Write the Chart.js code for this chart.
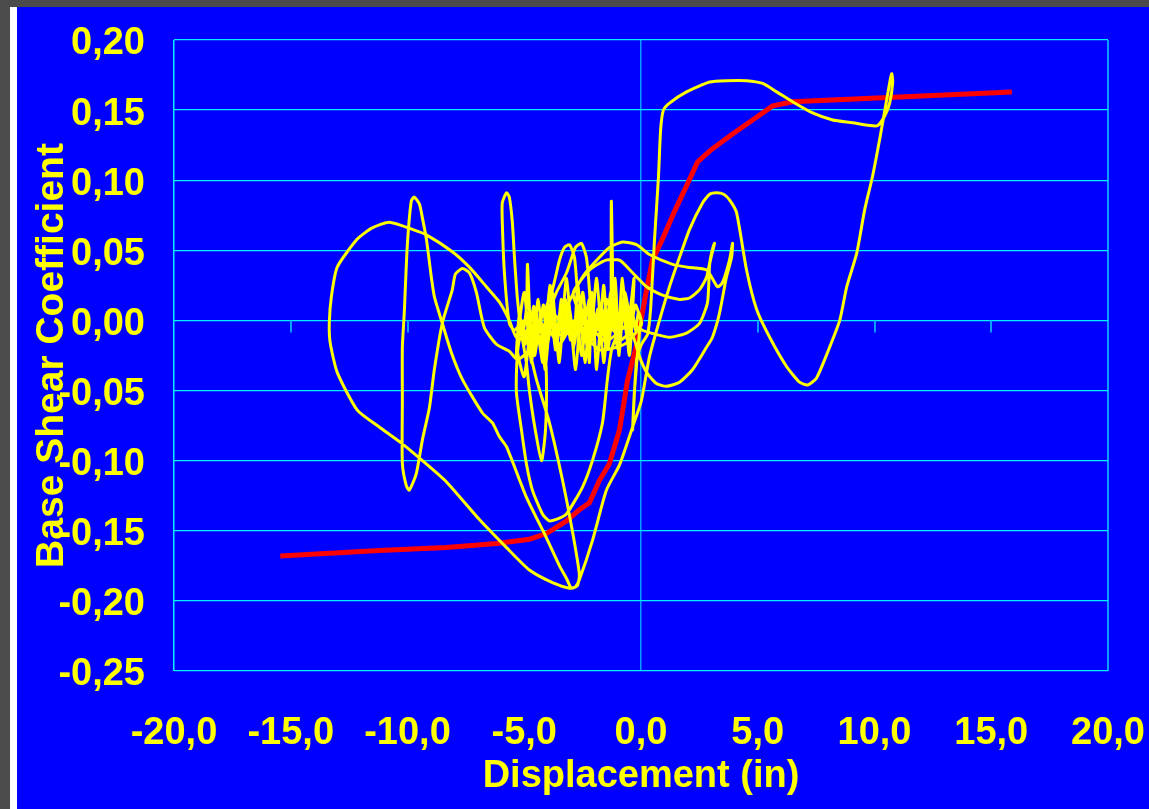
<!DOCTYPE html>
<html>
<head>
<meta charset="utf-8">
<script src="https://cdn.jsdelivr.net/npm/chart.js@4/dist/chart.umd.min.js"></script>
<style>
  html, body { margin: 0; padding: 0; width: 1149px; height: 809px; overflow: hidden; background: #4b4b4b; }
  #edge { position: absolute; left: 10px; top: 7px; width: 7px; height: 802px; background: #ffffff; }
  #panel { position: absolute; left: 17px; top: 7px; width: 1132px; height: 802px; background: #0000ff; }
  canvas { display: block; }
</style>
</head>
<body>
<div id="edge"></div>
<div id="panel"><canvas id="chart" width="1132" height="802"></canvas></div>
<script>
// Axis tick values
const xTickValues = [-20, -15, -10, -5, 0, 5, 10, 15, 20];
const yTickValues = [-0.25, -0.2, -0.15, -0.1, -0.05, 0, 0.05, 0.1, 0.15, 0.2];

// Pushover capacity curve (displacement in, base shear coefficient)
const pushoverDisp  = [-15.45, -11.21, -8.34, -6.19, -4.78, -4.05, -3.19, -2.64, -2.21, -1.78, -1.35, -0.92, -0.58, -0.24, 0, 0.24, 0.49, 0.92, 1.44, 1.95, 2.42, 3.02, 3.92, 4.78, 5.64, 6.49, 15.88];
const pushoverShear = [-0.168, -0.164, -0.162, -0.159, -0.156, -0.152, -0.143, -0.135, -0.130, -0.114, -0.102, -0.078, -0.043, -0.021, 0, 0.022, 0.043, 0.058, 0.078, 0.096, 0.113, 0.122, 0.133, 0.143, 0.153, 0.156, 0.163];

// Time-history response, first phase: small cycles, loops to +4 in, spike near -6 in
const phase1Disp = [
  0, -0.24, -0.49, -0.71, -0.92, -1.09, -1.26, -1.27, -1.22, -1.48, -1.65, -1.86, -2.04, -2.21, -2.42, -2.64, -2.85, -3.06, -3.24, -3.41,
  -3.58, -3.79, -4.01, -4.18, -4.35, -4.52, -4.69, -4.86, -4.90, -5.04, -5.21, -5.34, -5.16, -4.95, -4.78, -4.56, -4.31, -4.09, -3.88, -3.66,
  -3.45, -3.24, -3.02, -2.76, -2.55, -2.34, -2.21, -2.12, -1.91, -1.69, -1.52, -1.35, -1.18, -0.96, -0.75, -0.58, -0.41, -0.24, -0.11, 0.02,
  -0.71, -1.78, -2.64, -3.49, -4.14, -3.79, -3.49, -3.28, -3.06, -2.85, -2.72, -2.42, -2.29, -2.12, -2.21, -2.34, -2.55, -2.81, -3.19, -3.62,
  -4.01, -4.26, -3.71, -3.28, -2.94, -2.42, -1.78, -1.35, -0.79, -0.19, 0.36, 1.35, 1.99, 2.81, 3.28, 3.49, 3.79, 3.92, 3.88, 3.66,
  3.36, 3.06, 2.81, 2.21, 1.65, 1.09, 0.66, 0.24, -0.06, -0.28, -0.58, -1.50, -2.60, -2.90, -2.20, -1.50, -0.92, -0.36, 0.24, 0.92,
  1.65, 2.08, 2.51, 2.81, 3.02, 3.15, 3.06, 2.94, 2.85, 2.51, 1.95, 1.22, 0.66, 0.06, -0.49,
  -1.14, -1.78, -2.42, -3.06, -3.71, -4.35, -4.99, -5.42, -5.64, -5.85, -5.94, -5.94, -5.76, -5.64, -5.51, -5.42, -5.29, -5.12, -4.91, -4.78,
  -4.56, -4.26, -4.09, -4.05, -4.14, -4.56, -5.21, -5.34, -5.12, -4.91, -4.65, -4.22, -3.92, -3.49, -3.19, -2.51, -2.08, -1.65, -1.44, -1.26,
  -0.92, -0.49
];
const phase1Shear = [
  0, 0.011, -0.010, 0.015, -0.005, 0.011, -0.007, 0.085, 0.003, 0.015, -0.010, 0.008, -0.014, 0.015, -0.003, 0.011, -0.017, 0.008, -0.010, 0.015,
  -0.007, 0.004, -0.017, 0.011, -0.007, 0.008, -0.021, 0.040, 0.010, -0.007, 0.004, -0.025, -0.001, -0.017, 0.002, -0.025, 0.000, -0.014, 0.011, -0.021,
  -0.001, 0.015, -0.014, 0.002, -0.025, -0.001, -0.030, 0.015, -0.007, 0.009, -0.017, 0.002, 0.016, -0.010, 0.006, -0.014, 0.011, -0.007, 0.006, -0.003,
  -0.017, -0.021, -0.007, -0.010, 0.003, 0.022, 0.043, 0.052, 0.054, 0.045, 0.022, -0.002, -0.021, -0.007, 0.022, 0.045, 0.055, 0.052, 0.034, 0.020,
  0.003, -0.012, -0.007, 0.006, 0.018, 0.033, 0.045, 0.052, 0.056, 0.054, 0.047, 0.040, 0.038, 0.036, 0.024, 0.027, 0.043, 0.055, 0.045, 0.031,
  0.005, -0.012, -0.019, -0.035, -0.044, -0.047, -0.045, -0.037, -0.026, -0.014, -0.003, -0.015, 0.005, 0.020, 0.036, 0.043, 0.043, 0.034, 0.024, 0.018,
  0.015, 0.016, 0.022, 0.031, 0.048, 0.055, 0.049, 0.040, 0.013, -0.002, -0.009, -0.012, -0.010, -0.007, -0.001,
  0.004, -0.007, 0.008, -0.010, 0.004, -0.007, 0.000, -0.007, -0.002, 0.034, 0.070, 0.084, 0.091, 0.088, 0.070, 0.045, 0.015, -0.009, -0.030, -0.050,
  -0.075, -0.100, -0.078, -0.042, -0.021, -0.007, -0.014, -0.050, -0.078, -0.102, -0.121, -0.138, -0.143, -0.141, -0.138, -0.119, -0.100, -0.073, -0.042, -0.021,
  -0.007, -0.003
];

// Second phase: dense small cycles between -5.5 in and 0
const phase2Disp = [
  -0.70, -0.95, -1.10, -1.40, -1.60, -1.90, -2.10, -2.40, -2.70, -2.90, -3.20, -3.50, -3.80, -4.10, -4.40, -4.70, -5.00, -5.30, -5.00, -4.60,
  -4.20, -3.90, -3.50, -3.10, -2.80, -2.50, -2.20, -1.90, -1.60, -1.30, -1.00, -0.80, -0.50, -0.30, -0.60
];
const phase2Shear = [
  0.020, -0.025, 0.030, -0.020, 0.025, -0.035, 0.020, -0.030, 0.025, -0.020, 0.030, -0.030, 0.020, -0.035, 0.015, -0.030, 0.020, -0.020, -0.040, 0.010,
  -0.030, 0.025, -0.020, 0.010, -0.035, 0.020, -0.020, 0.030, -0.030, 0.020, -0.020, 0.030, -0.025, 0.030, -0.010
];

// Third phase: excursion to -10 in, large loop to -13 in, then peak at +10.7 in
const phase3Disp = [
  -0.92, -1.56, -2.21, -2.85, -3.49, -4.14, -4.78, -5.29, -5.64, -6.19, -6.71, -7.05, -7.35, -7.65, -7.95, -8.08, -8.51, -8.85, -9.06, -9.36,
  -9.62, -9.92, -10.05, -10.22, -10.22, -10.22, -10.14, -10.01, -9.84, -9.71, -9.49, -9.36, -9.19, -8.98, -8.85, -8.51, -8.12, -7.65, -6.79, -6.36,
  -6.06, -5.76, -4.91, -4.05, -3.49, -3.19, -2.98, -2.72, -2.64, -2.94, -3.36, -3.92, -4.48, -4.78, -4.99,
  -5.34, -5.64, -6.06, -6.62, -7.35, -8.08, -9.19, -9.79, -10.78, -11.51, -12.15, -13.01, -13.26, -13.35, -13.31, -13.01, -12.15, -11.21, -10.22, -9.36,
  -8.34, -6.92, -5.76, -4.78, -3.79, -3.06, -2.81, -2.64, -2.08, -1.48, -0.92, -0.36, 0.02, 0.36, 0.79, 1.22, 1.65, 2.08, 2.64, 2.94,
  3.24, 3.54, 3.79, 4.09, 4.52, 4.95, 5.51, 6.24, 6.79, 7.14, 7.52, 8.08, 8.51, 8.81, 9.24, 9.58, 9.92, 10.22, 10.39, 10.56,
  10.69, 10.74, 10.78, 10.65, 10.44, 10.14, 9.79, 9.06, 8.21, 7.35, 6.49, 5.81, 5.21, 4.52, 3.66, 2.94, 1.95, 1.22, 0.96, 0.84,
  0.75, 0.58, 0.41, 0.28, 0.02, -0.19, -0.36, -0.28, -0.06, 0
];
const phase3Shear = [
  -0.014, 0.004, -0.010, 0.000, -0.017, -0.003, -0.021, -0.028, -0.022, -0.017, -0.005, 0.020, 0.034, 0.037, 0.033, 0.022, -0.002, -0.035, -0.062, -0.085,
  -0.109, -0.121, -0.118, -0.102, -0.057, -0.019, 0.005, 0.053, 0.085, 0.088, 0.083, 0.073, 0.058, 0.031, 0.017, -0.002, -0.023, -0.042, -0.066, -0.073,
  -0.083, -0.090, -0.126, -0.155, -0.175, -0.184, -0.191, -0.189, -0.181, -0.150, -0.114, -0.073, -0.042, -0.021, -0.007,
  -0.012, 0.000, 0.013, 0.024, 0.038, 0.049, 0.061, 0.065, 0.070, 0.066, 0.058, 0.038, 0.017, -0.002, -0.016, -0.037, -0.064, -0.076, -0.088, -0.100,
  -0.115, -0.142, -0.162, -0.178, -0.187, -0.191, -0.190, -0.185, -0.157, -0.121, -0.103, -0.076, -0.057, -0.026, 0.000, 0.024, 0.045, 0.065, 0.084, 0.090,
  0.091, 0.090, 0.086, 0.077, 0.036, 0.008, -0.012, -0.033, -0.044, -0.046, -0.041, -0.019, 0.000, 0.024, 0.048, 0.079, 0.103, 0.129, 0.145, 0.161,
  0.173, 0.176, 0.170, 0.155, 0.146, 0.139, 0.139, 0.141, 0.143, 0.148, 0.156, 0.163, 0.169, 0.171, 0.171, 0.170, 0.163, 0.155, 0.150, 0.136,
  0.103, 0.058, 0.008, -0.010, -0.017, -0.028, -0.078, -0.050, -0.007, 0
];

const responseDisp = phase1Disp.concat(phase2Disp, phase3Disp);
const responseShear = phase1Shear.concat(phase2Shear, phase3Shear);

const toPoints = (xs, ys) => xs.map((x, i) => ({ x: x, y: ys[i] }));
const fmt = (v, digits) => (Math.abs(v) < 1e-9 ? 0 : v).toFixed(digits).replace('.', ',');

const CYAN = '#00f0ff';
const SKY = '#0a9cff';
const YELLOW = '#ffff00';
const FONT = { family: '"Liberation Sans", Arial, sans-serif', weight: 'bold', size: 38 };
const Y_TITLE_FONT = { family: '"Liberation Sans", Arial, sans-serif', weight: 'bold', size: 39 };

// Small tick marks hanging below the zero line of the shear axis
const zeroLineTicks = {
  id: 'zeroLineTicks',
  beforeDatasetsDraw(chart) {
    const { ctx, scales: { x, y } } = chart;
    const y0 = y.getPixelForValue(0);
    ctx.save();
    ctx.strokeStyle = SKY;
    ctx.lineWidth = 2;
    xTickValues.forEach(v => {
      if (v === 0 || v === xTickValues[0] || v === xTickValues[xTickValues.length - 1]) return;
      const px = Math.round(x.getPixelForValue(v));
      ctx.beginPath();
      ctx.moveTo(px, y0);
      ctx.lineTo(px, y0 + 12);
      ctx.stroke();
    });
    ctx.restore();
  }
};

new Chart(document.getElementById('chart'), {
  type: 'scatter',
  data: {
    datasets: [
      {
        label: 'Response',
        data: toPoints(responseDisp, responseShear),
        showLine: true,
        borderColor: YELLOW,
        backgroundColor: YELLOW,
        borderWidth: 3,
        pointRadius: 0,
        tension: 0.2,
        order: 1
      },
      {
        label: 'Pushover',
        data: toPoints(pushoverDisp, pushoverShear),
        showLine: true,
        borderColor: '#ff0000',
        backgroundColor: '#ff0000',
        borderWidth: 5,
        pointRadius: 0,
        tension: 0,
        order: 2
      }
    ]
  },
  options: {
    responsive: false,
    animation: false,
    devicePixelRatio: 1,
    layout: { padding: { top: 33, right: 41, left: 0, bottom: 0 } },
    plugins: { legend: { display: false }, tooltip: { enabled: false } },
    scales: {
      x: {
        type: 'linear',
        min: xTickValues[0],
        max: xTickValues[xTickValues.length - 1],
        afterBuildTicks: s => { s.ticks = xTickValues.map(v => ({ value: v })); },
        afterFit: s => { s.height = 138; s.paddingLeft = 0; s.paddingRight = 0; },
        border: { display: false },
        grid: {
          drawTicks: false,
          color: c => {
            const v = c.tick && c.tick.value;
            if (v === 0 || v === xTickValues[xTickValues.length - 1]) return SKY;
            if (v === xTickValues[0]) return CYAN;
            return 'rgba(0,0,0,0)';
          },
          lineWidth: c => (c.tick && c.tick.value === xTickValues[xTickValues.length - 1]) ? 2 : 1.5
        },
        ticks: {
          color: YELLOW,
          font: FONT,
          padding: 40,
          maxRotation: 0,
          autoSkip: false,
          callback: v => fmt(v, 1)
        },
        title: {
          display: true,
          text: 'Displacement (in)',
          color: YELLOW,
          font: FONT,
          padding: { top: 0, bottom: 10 }
        }
      },
      y: {
        type: 'linear',
        min: yTickValues[0],
        max: yTickValues[yTickValues.length - 1],
        afterBuildTicks: s => { s.ticks = yTickValues.map(v => ({ value: v })); },
        afterFit: s => { s.width = 157; s.paddingTop = 0; s.paddingBottom = 0; },
        border: { display: false },
        grid: { drawTicks: false, color: CYAN, lineWidth: 1.25 },
        ticks: {
          color: YELLOW,
          font: FONT,
          padding: 29,
          labelOffset: 4,
          autoSkip: false,
          callback: v => fmt(v, 2)
        },
        title: {
          display: true,
          text: 'Base Shear Coefficient',
          color: YELLOW,
          font: Y_TITLE_FONT,
          padding: { top: 12, bottom: 0 }
        }
      }
    }
  },
  plugins: [zeroLineTicks]
});
</script>
</body>
</html>
